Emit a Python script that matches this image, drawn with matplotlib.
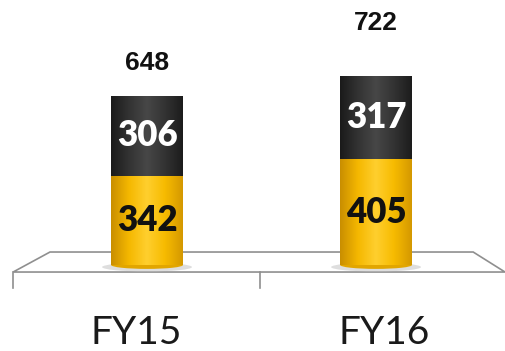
import numpy as np
import matplotlib.pyplot as plt
from matplotlib.colors import LinearSegmentedColormap
from matplotlib.patches import Ellipse, Polygon

# data
years = ['FY15', 'FY16']
lower = [342, 405]
upper = [306, 317]
totals = [a + b for a, b in zip(lower, upper)]

gold = '#F2B300'
dark = '#2D2D2D'

fig = plt.figure(figsize=(5.05, 3.51), dpi=100)
ax = fig.add_axes([0, 0, 1, 1])
ax.axis('off')

# floor (3d platform)
floor_top = Polygon([[0.026, 0.225], [0.099, 0.282], [0.937, 0.282], [1.0, 0.225]],
                    closed=True, transform=ax.transAxes, facecolor='white',
                    edgecolor='#8F8F8F', lw=1.2, zorder=1)
ax.add_patch(floor_top)
for xt in [0.026, 0.515]:
    ax.plot([xt, xt], [0.225, 0.18], color='#8F8F8F', lw=1.2,
            transform=ax.transAxes, zorder=1)

x = np.arange(len(years))
w = 0.314

gold_cmap = LinearSegmentedColormap.from_list(
    'g', ['#C98E00', '#F5B800', '#FFCF2E', '#F7BB00', '#D49800'])
dark_cmap = LinearSegmentedColormap.from_list(
    'd', ['#1A1A1A', '#333333', '#474747', '#333333', '#1C1C1C'])
grad = np.linspace(0, 1, 256).reshape(1, -1)

# shadow under the bars
for xi in x:
    ax.add_patch(Ellipse((xi, -8), w * 1.25, 34, facecolor='#C8C8C8',
                         edgecolor='none', alpha=0.6, zorder=2))

bars_lo = ax.bar(x, lower, width=w, color=gold, zorder=3)
bars_hi = ax.bar(x, upper, width=w, bottom=lower, color=dark, zorder=3)

for bars, cmap in [(bars_lo, gold_cmap), (bars_hi, dark_cmap)]:
    for b in bars:
        x0, y0 = b.get_x(), b.get_y()
        im = ax.imshow(grad, cmap=cmap, aspect='auto', zorder=4,
                       extent=[x0, x0 + b.get_width(), y0, y0 + b.get_height()])
        im.set_clip_path(b)

# rounded cylinder bottom
for xi in x:
    ax.add_patch(Ellipse((xi, 0), w, 30, facecolor='#E2A600',
                         edgecolor='none', zorder=3.5))

ax.set_xlim(-0.642, 1.563)
ax.set_ylim(-329.5, 1015)

for xi, lo, up in zip(x, lower, upper):
    ax.text(xi, lo / 2, str(lo), ha='center', va='center', fontsize=25,
            fontweight='heavy', family='Lato', color='#111111', zorder=6)
    ax.text(xi, lo + up / 2, str(up), ha='center', va='center', fontsize=25,
            fontweight='heavy', family='Lato', color='white', zorder=6)

total_offsets = [33, 53]
for xi, t, off in zip(x, totals, total_offsets):
    ax.annotate(str(t), (xi, t), xytext=(0, off * 0.72), textcoords='offset points',
                ha='center', va='center', fontsize=19, fontweight='bold',
                family='Liberation Sans', color='#111111', zorder=6)

label_x = [0.27, 0.76]
for lx, name in zip(label_x, years):
    ax.text(lx, 0.051, name, transform=ax.transAxes, ha='center', va='center',
            fontsize=28, family='Lato', color='#1A1A1A')

fig.savefig('out.png', dpi=100)
